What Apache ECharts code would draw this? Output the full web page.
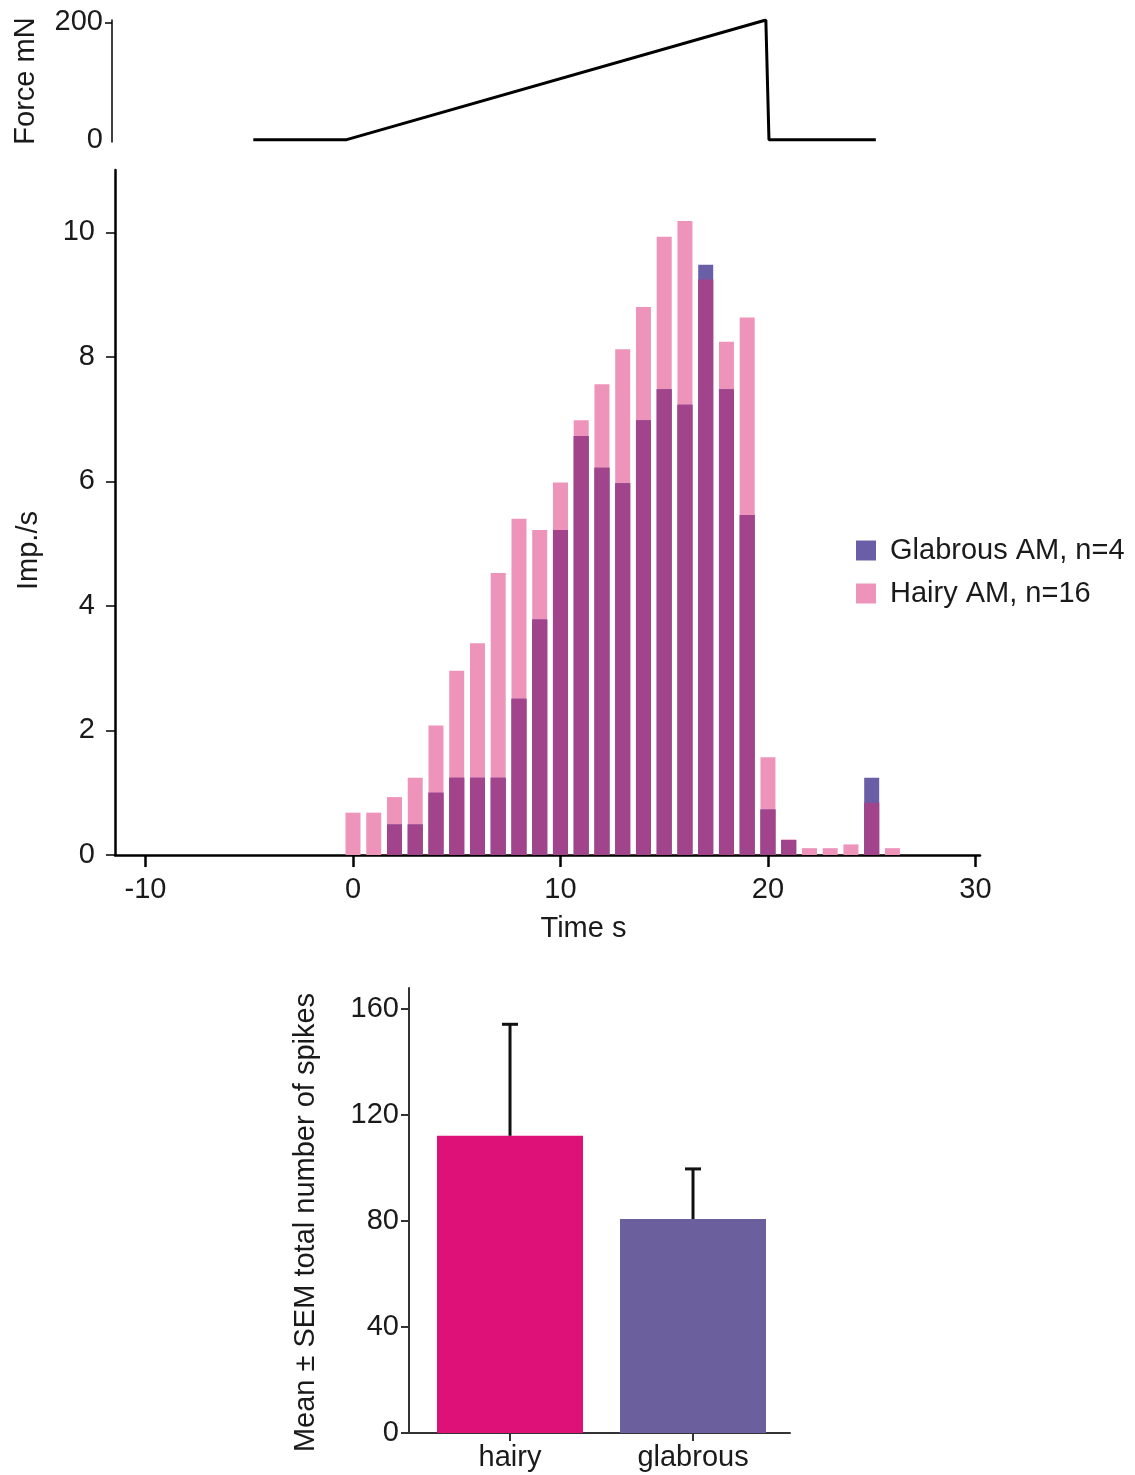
<!DOCTYPE html>
<html><head><meta charset="utf-8">
<script src="https://cdn.jsdelivr.net/npm/echarts@6/dist/echarts.min.js"></script>
<style>html,body{margin:0;padding:0;background:#fff}#c{width:1135px;height:1475px}</style>
</head><body><div id="c"></div>
<script>
// ---- data ----
const binTimes = [0,1,2,3,4,5,6,7,8,9,10,11,12,13,14,15,16,17,18,19,20,21,22,23,24,25,26];
const hairyRate = [0.68,0.68,0.93,1.24,2.08,2.96,3.4,4.53,5.4,5.22,5.98,6.98,7.56,8.12,8.8,9.93,10.18,9.24,8.24,8.63,1.57,0.25,0.11,0.11,0.17,0.84,0.11];
const glabrousRate = [0,0,0.49,0.49,1.0,1.24,1.24,1.24,2.51,3.78,5.22,6.73,6.22,5.97,6.98,7.48,7.23,9.48,7.48,5.46,0.73,0.24,0,0,0,1.24,0];
const forceTime = [-4.8,-0.3,19.9,20.05,25.2];
const forceValue = [0,0,204,0,0];
const groupNames = ['hairy','glabrous'];
const spikeMean = [112.2,80.8];
const spikeUpper = [154.3,99.7];
const timeTicks = [-10,0,10,20,30];
const rateTicks = [0,2,4,6,8,10];
const forceTicks = [0,200];
const spikeTicks = [0,40,80,120,160];

// ---- derived ----
const hairyData = binTimes.map((t,i)=>[t,hairyRate[i]]);
const glabData = binTimes.map((t,i)=>[t,glabrousRate[i]]);
const overlapData = binTimes.map((t,i)=>[t,Math.min(hairyRate[i],glabrousRate[i])]);
const forceData = forceTime.map((t,i)=>[t,forceValue[i]]);
const groupIdx = groupNames.map((g,i)=>i);

const FONT = 'Liberation Sans, Arial, sans-serif';
const TXT = '#1a1a1a';
const PINK = '#EE94BB', PURPLE = '#A1448B', BLUE = '#6A5EA7';
const FS = 29;

const chart = echarts.init(document.getElementById('c'), null, {renderer:'canvas'});
chart.setOption({
  backgroundColor:'#fff',
  animation:false,
  textStyle:{fontFamily:FONT,color:TXT},
  legend:{
    orient:'vertical', left:856, top:536, padding:0, itemWidth:20, itemHeight:20, itemGap:14,
    icon:'rect',
    textStyle:{fontSize:FS,color:TXT,fontFamily:FONT,padding:[0,0,0,9]},
    data:['Glabrous AM, n=4','Hairy AM, n=16']
  },
  grid:[
    {left:112,right:155,top:20,height:122},
    {left:115,right:155,top:170,bottom:620},
    {left:409,right:345,top:988,bottom:42}
  ],
  xAxis:[
    {gridIndex:0,type:'value',min:-11.61,max:30.22,show:false},
    {gridIndex:1,type:'value',min:-11.47,max:30.22,
      axisLine:{show:true,onZero:false,lineStyle:{color:'#000',width:2.5}},
      axisTick:{show:true,customValues:timeTicks,length:12,lineStyle:{color:'#000',width:2.5}},
      axisLabel:{customValues:timeTicks,fontSize:FS,color:TXT,margin:20},
      splitLine:{show:false},
      name:'Time s',nameLocation:'middle',nameGap:59,
      nameTextStyle:{fontSize:FS,color:TXT,padding:[0,0,0,72]}
    },
    {gridIndex:2,type:'value',min:-0.552,max:1.530,
      axisLine:{show:true,onZero:false,lineStyle:{color:'#333',width:2}},
      axisTick:{show:true,customValues:groupIdx,length:8,lineStyle:{color:'#333',width:2}},
      axisLabel:{customValues:groupIdx,fontSize:FS,color:TXT,margin:10,
        formatter:function(v){return groupNames[Math.round(v)];}},
      splitLine:{show:false}
    }
  ],
  yAxis:[
    {gridIndex:0,type:'value',min:-4,max:204,
      axisLine:{show:true,onZero:false,lineStyle:{color:'#000',width:1.5}},
      axisTick:{show:true,customValues:[200],length:7,lineStyle:{color:'#000',width:1.5}},
      axisLabel:{customValues:forceTicks,fontSize:FS,color:TXT,margin:9},
      splitLine:{show:false},
      name:'Force mN',nameLocation:'middle',nameGap:72,nameRotate:90,
      nameTextStyle:{fontSize:FS,color:TXT}
    },
    {gridIndex:1,type:'value',min:0,max:11,
      axisLine:{show:true,onZero:false,lineStyle:{color:'#000',width:2.5}},
      axisTick:{show:true,customValues:rateTicks,length:9,lineStyle:{color:'#000',width:1.5}},
      axisLabel:{customValues:rateTicks,fontSize:FS,color:TXT,margin:20},
      splitLine:{show:false},
      name:'Imp./s',nameLocation:'middle',nameGap:72,nameRotate:90,
      nameTextStyle:{fontSize:FS,color:TXT,padding:[0,76,0,0]}
    },
    {gridIndex:2,type:'value',min:0,max:168,
      axisLine:{show:true,onZero:false,lineStyle:{color:'#333',width:2}},
      axisTick:{show:true,customValues:spikeTicks,length:8,lineStyle:{color:'#333',width:2}},
      axisLabel:{customValues:spikeTicks,fontSize:FS,color:TXT,margin:10},
      splitLine:{show:false},
      name:'Mean ± SEM total number of spikes',nameLocation:'middle',nameGap:89,nameRotate:90,
      nameTextStyle:{fontSize:FS,color:TXT,padding:[0,24,0,0]}
    }
  ],
  series:[
    {type:'line',xAxisIndex:0,yAxisIndex:0,data:forceData,showSymbol:false,
      lineStyle:{color:'#000',width:3},silent:true},
    {name:'Hairy AM, n=16',type:'bar',xAxisIndex:1,yAxisIndex:1,data:hairyData,
      barWidth:15,barGap:'-100%',itemStyle:{color:PINK}},
    {name:'Glabrous AM, n=4',type:'bar',xAxisIndex:1,yAxisIndex:1,data:glabData,
      barWidth:15,barGap:'-100%',itemStyle:{color:BLUE}},
    {name:'overlap',type:'bar',xAxisIndex:1,yAxisIndex:1,data:overlapData,
      barWidth:15,barGap:'-100%',itemStyle:{color:PURPLE}},
    {type:'bar',xAxisIndex:2,yAxisIndex:2,barWidth:146,
      data:[{value:[0,spikeMean[0]],itemStyle:{color:'#DD1177'}},{value:[1,spikeMean[1]],itemStyle:{color:'#6B5F9E'}}]},
    {type:'custom',xAxisIndex:2,yAxisIndex:2,z:5,
      data:groupIdx.map(i=>[i,spikeMean[i],spikeUpper[i]]),
      renderItem:function(params,api){
        const p0 = api.coord([api.value(0),api.value(1)]);
        const p1 = api.coord([api.value(0),api.value(2)]);
        const st = {stroke:'#111',lineWidth:3};
        return {type:'group',children:[
          {type:'line',shape:{x1:p0[0],y1:p0[1],x2:p1[0],y2:p1[1]},style:st},
          {type:'line',shape:{x1:p1[0]-8,y1:p1[1],x2:p1[0]+8,y2:p1[1]},style:st}
        ]};
      }
    }
  ]
});
</script>
</body></html>
